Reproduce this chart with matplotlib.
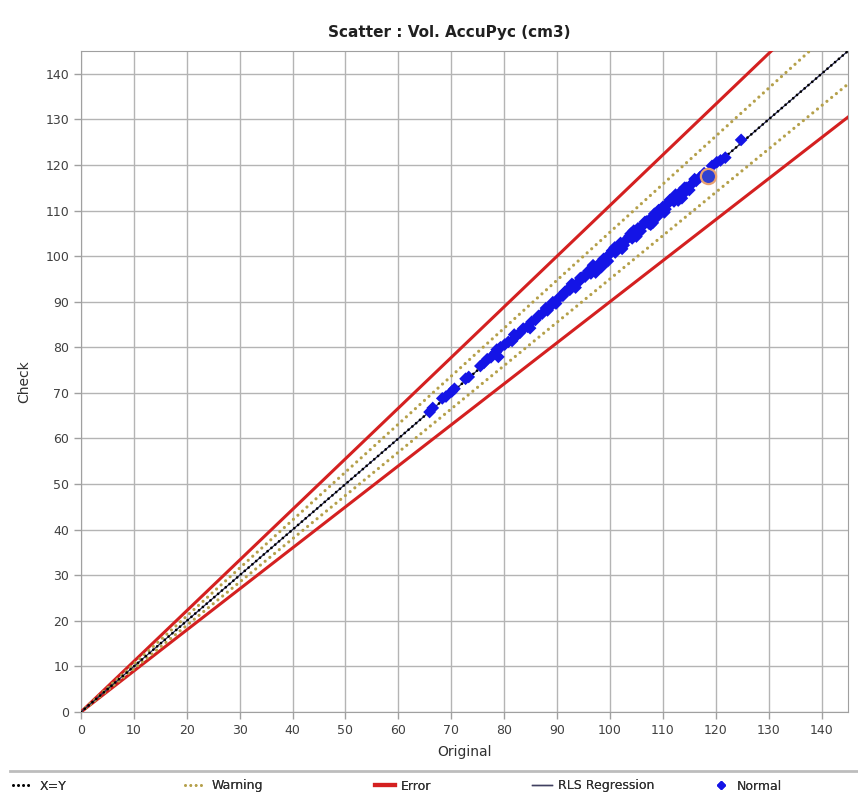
import matplotlib
matplotlib.use("Agg")
import matplotlib.pyplot as plt
from matplotlib.lines import Line2D
import numpy as np

# ---- data ----
original = [65.9, 66.5, 68.3, 69.0, 70.1, 70.6, 72.7, 73.3, 75.5, 76.2, 76.8, 77.5,
            78.4, 78.9, 79.3, 80.1, 80.8, 81.5, 82.3, 83.0, 83.6, 84.4, 85.2, 85.9,
            86.5, 87.2, 87.9, 88.6, 89.2, 89.8, 90.5, 91.1, 91.8, 92.4, 93.0, 93.5,
            94.1, 94.7, 95.3, 95.9, 96.4, 97.0, 97.6, 98.1, 98.8, 99.3, 99.9, 100.4,
            101.0, 101.5, 102.0, 102.6, 103.1, 103.7, 104.2, 104.8, 105.3, 105.8,
            106.3, 106.9, 107.4, 107.9, 108.4, 108.9, 109.5, 110.0, 110.5, 111.0,
            111.6, 112.1, 112.7, 113.3, 113.8, 114.4, 115.0, 115.6, 116.3, 117.0,
            117.8, 118.6, 119.3, 120.2, 120.9, 121.8, 124.8,
            96.8, 98.4, 100.9, 102.3, 103.9, 105.0, 106.6, 107.7, 109.2, 110.3,
            111.3, 112.9, 114.1, 81.9, 88.2, 91.5, 94.4,
            99.6, 104.5, 108.1, 112.4, 113.6, 116.0, 78.6, 84.9, 92.8, 97.3]
check = [65.8, 66.7, 68.8, 69.2, 70.3, 70.9, 73.1, 73.5, 75.9, 76.6, 77.4, 77.8,
         78.9, 77.9, 80.0, 80.6, 81.2, 81.4, 82.5, 83.2, 84.1, 84.5, 85.6, 86.0,
         86.9, 87.4, 88.6, 88.8, 89.9, 89.6, 91.0, 91.3, 92.4, 92.6, 93.7, 93.1,
         94.4, 95.3, 95.5, 96.7, 96.2, 97.6, 97.1, 98.5, 99.4, 99.0, 100.4, 101.2,
         100.8, 102.1, 102.9, 102.4, 103.6, 104.4, 103.9, 105.3, 106.1, 105.5,
         106.8, 107.6, 107.1, 108.5, 109.3, 108.6, 110.0, 110.8, 110.3, 111.6,
         112.4, 112.0, 113.1, 114.0, 113.6, 115.0, 114.5, 116.0, 116.5, 117.3,
         118.2, 117.6, 119.8, 120.6, 121.0, 121.6, 125.5,
         98.0, 97.6, 101.9, 101.6, 104.9, 104.3, 107.5, 106.9, 110.1, 109.6,
         112.3, 112.2, 115.0, 82.8, 88.1, 92.2, 95.2,
         98.9, 105.6, 107.3, 113.5, 112.7, 116.9, 79.5, 84.2, 93.9, 96.4]
flagged_x = [118.6]
flagged_y = [117.6]

line_x = [0, 145]
warning_factor = 0.95
error_factor = 0.90
rls_slope, rls_intercept = 1.0, 0.0

xticks = list(range(0, 150, 10))
yticks = list(range(0, 150, 10))

# ---- figure ----
fig = plt.figure(figsize=(8.58, 7.97), dpi=100)
ax = fig.add_axes([81/858, 1-712/797, (848-81)/858, (712-51)/797])

lx = np.array(line_x, dtype=float)
red = '#d42020'
khaki = '#b5a04a'
blue = '#1414e6'

ax.plot(lx, lx * error_factor, color=red, lw=2.2, zorder=3)
ax.plot(lx, lx / error_factor, color=red, lw=2.2, zorder=3)
ax.plot(lx, lx * warning_factor, color=khaki, lw=2.3, linestyle=(0, (0.01, 1.9)),
        dash_capstyle='round', zorder=3)
ax.plot(lx, lx / warning_factor, color=khaki, lw=2.3, linestyle=(0, (0.01, 1.9)),
        dash_capstyle='round', zorder=3)
ax.plot(lx, rls_slope * lx + rls_intercept, color='#2a2a5a', lw=0.9, zorder=4)
ax.plot(lx, lx, color='black', lw=2.0, linestyle=(0, (0.01, 1.8)),
        dash_capstyle='round', zorder=4)
ax.scatter(original, check, marker='D', s=42, color=blue, edgecolors='none', zorder=5)
ax.scatter(flagged_x, flagged_y, marker='o', s=120, facecolors='#3040d0',
           edgecolors='#e8a070', linewidths=1.6, zorder=6)

ax.set_xlim(0, 145)
ax.set_ylim(0, 145)
ax.set_xticks(xticks)
ax.set_yticks(yticks)
ax.grid(True, color='#b4b4b4', lw=1.0)
ax.set_axisbelow(True)
for s in ax.spines.values():
    s.set_color('#a0a0a0')
ax.tick_params(colors='#a0a0a0', labelcolor='#404040', labelsize=9, length=5, width=1)
ax.set_xlabel('Original', fontsize=10, color='#303030', labelpad=6)
ax.set_ylabel('Check', fontsize=10, color='#303030', labelpad=10)

fig.text(0.524, 1-32/797, 'Scatter : Vol. AccuPyc (cm3)', ha='center', va='center',
         fontsize=11, fontweight='bold', color='#202020')

# separator above legend
fig.add_artist(Line2D([0.012, 1.0], [1-771/797, 1-771/797], color='#bdbdbd', lw=2,
                      transform=fig.transFigure))

handles = [
    Line2D([], [], color='black', lw=2.0, linestyle=(0, (0.01, 1.8)), dash_capstyle='round'),
    Line2D([], [], color=khaki, lw=2.0, linestyle=(0, (0.01, 1.9)), dash_capstyle='round'),
    Line2D([], [], color=red, lw=3),
    Line2D([], [], color='#404060', lw=1),
    Line2D([], [], color=blue, marker='D', lw=0, markersize=4),
]
labels = ['X=Y', 'Warning', 'Error', 'RLS Regression', 'Normal']
legend_x = [8, 180, 370, 527, 706]
for h, lab, px in zip(handles, labels, legend_x):
    leg = fig.legend([h], [lab], loc='center left', frameon=False,
                     bbox_to_anchor=(px/858, 1-786/797), fontsize=9, handlelength=1.6,
                     handletextpad=0.5, labelcolor='#303030', borderaxespad=0)
    fig.add_artist(leg)

fig.savefig('out.png', dpi=100, facecolor='white')
